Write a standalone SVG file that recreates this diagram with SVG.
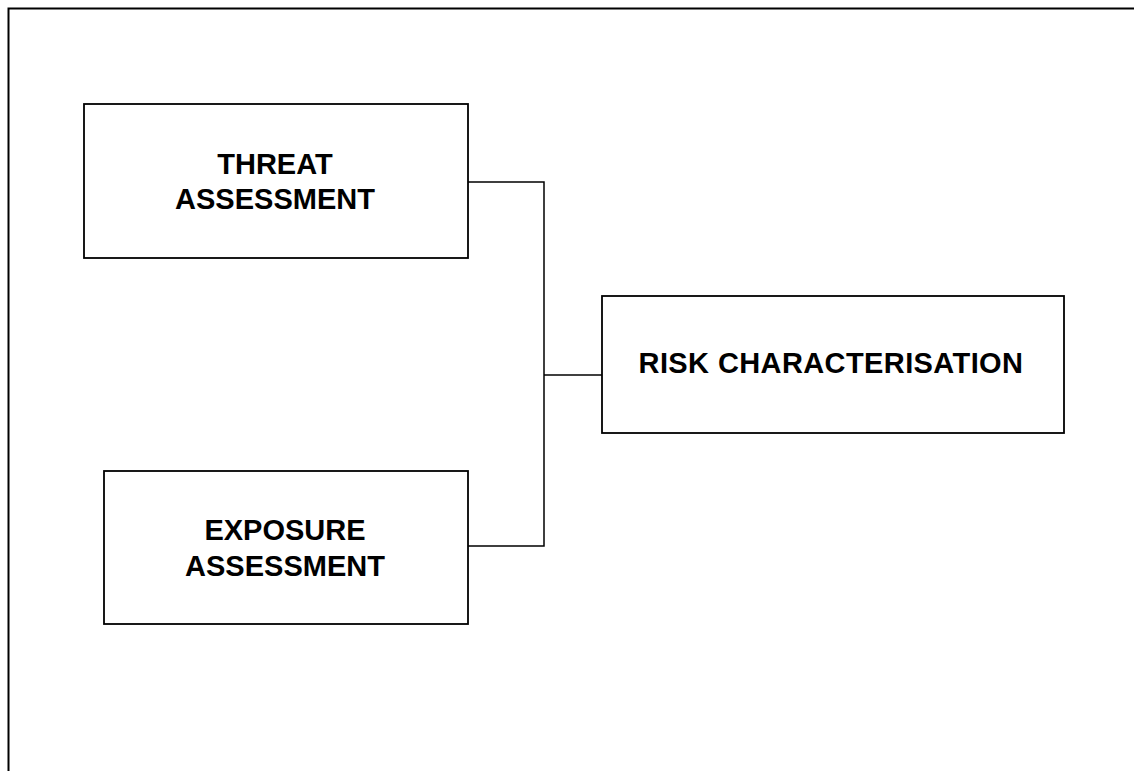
<svg xmlns="http://www.w3.org/2000/svg" width="1134" height="771" viewBox="0 0 1134 771">
<style>
.box{fill:#fff;stroke:#000;stroke-width:1.8}
.frame{fill:none;stroke:#000;stroke-width:2}
.conn{fill:none;stroke:#000;stroke-width:1.5}
.lbl{font-family:"Liberation Sans",Arial,sans-serif;font-weight:bold;font-size:29px;fill:#000;text-anchor:middle}
</style>
<rect width="1134" height="771" fill="#fff"/>
<path class="frame" d="M8.5,771 V8.5 H1134"/>
<g id="connectors">
<path class="conn" d="M468,182 H544 V546 H468"/>
<path class="conn" d="M544,375 H602"/>
</g>
<g id="threat">
<rect class="box" x="84" y="104" width="384" height="154"/>
<text class="lbl" x="275" y="174">THREAT</text>
<text class="lbl" x="275" y="209">ASSESSMENT</text>
</g>
<g id="exposure">
<rect class="box" x="104" y="471" width="364" height="153"/>
<text class="lbl" x="285" y="540">EXPOSURE</text>
<text class="lbl" x="285" y="576">ASSESSMENT</text>
</g>
<g id="risk">
<rect class="box" x="602" y="296" width="462" height="137"/>
<text class="lbl" x="831" y="373" letter-spacing="0.4">RISK CHARACTERISATION</text>
</g>
</svg>
